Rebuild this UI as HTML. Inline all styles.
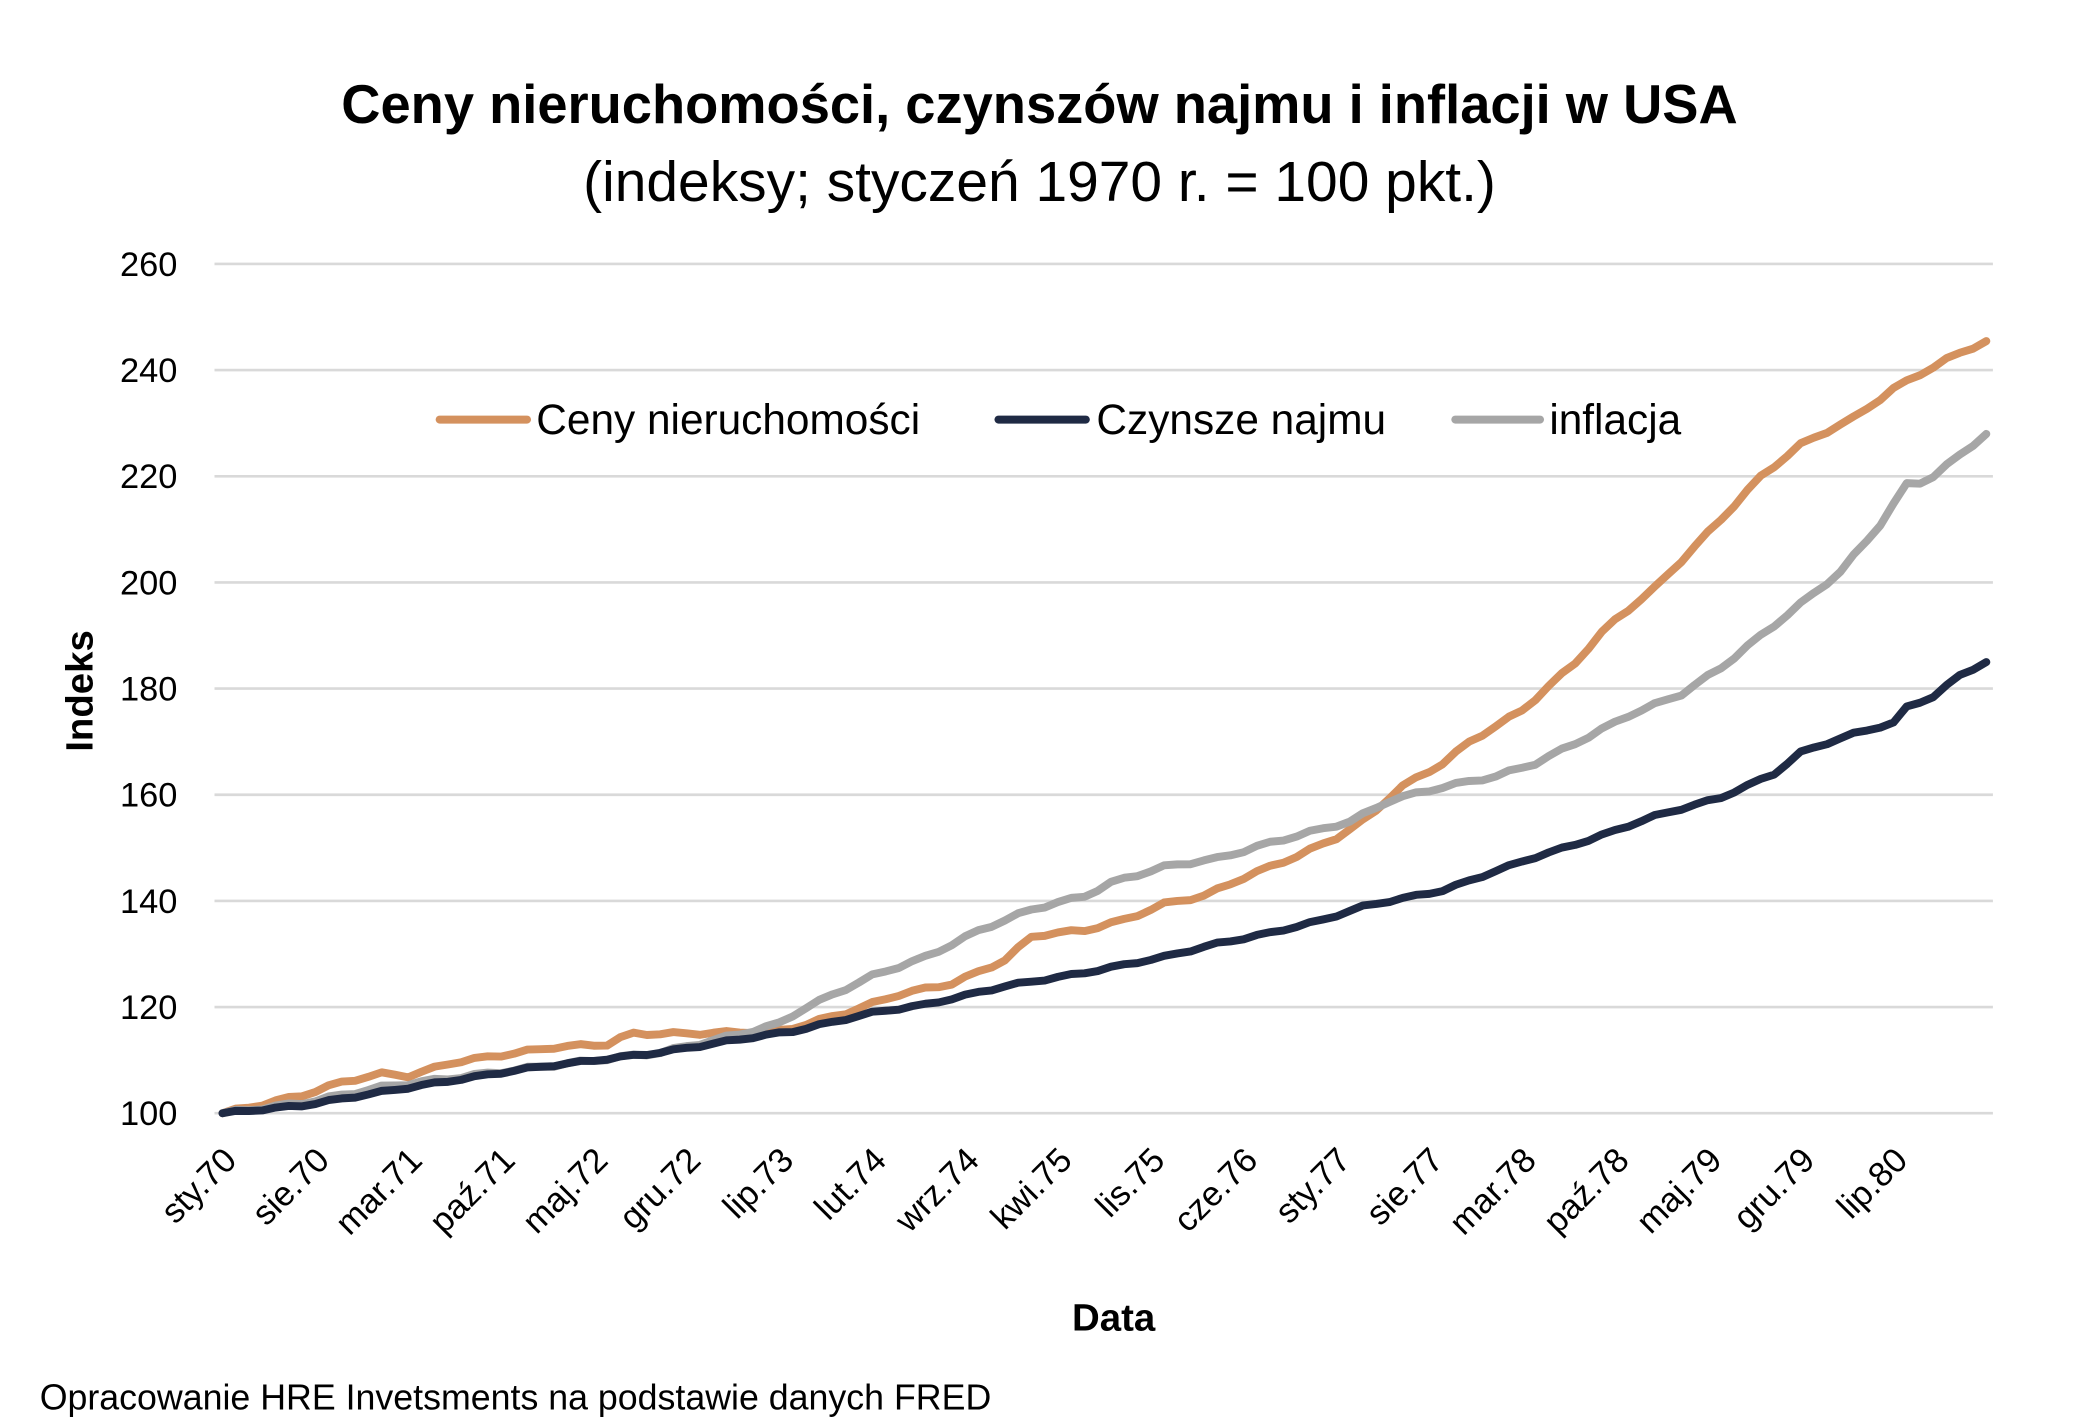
<!DOCTYPE html>
<html><head><meta charset="utf-8"><style>html,body{margin:0;padding:0;background:#fff}svg{display:block}text{font-family:"Liberation Sans",sans-serif}</style></head>
<body>
<svg id="s" width="2079" height="1419" viewBox="0 0 1570 1072" preserveAspectRatio="none" xmlns="http://www.w3.org/2000/svg">
<rect width="1570" height="1072" fill="#fff"/>
<text x="785" y="93" text-anchor="middle" font-size="41" font-weight="bold" fill="#000">Ceny nieruchomości, czynszów najmu i inflacji w USA</text>
<text x="785" y="152" text-anchor="middle" font-size="43" fill="#000">(indeksy; styczeń 1970 r. = 100 pkt.)</text>
<g id="grid" stroke="#d9d9d9" stroke-width="2"></g>
<g id="ylab" font-size="26" fill="#000" text-anchor="end"></g>
<g id="xlab" font-size="26" fill="#000" text-anchor="end"></g>
<text transform="translate(70,522) rotate(-90)" text-anchor="middle" font-size="29" font-weight="bold">Indeks</text>
<text x="841" y="1005" text-anchor="middle" font-size="29" font-weight="bold">Data</text>
<text x="30" y="1065" font-size="27" fill="#000">Opracowanie HRE Invetsments na podstawie danych FRED</text>
<g id="lines" fill="none" stroke-width="6" stroke-linejoin="round" stroke-linecap="round"></g>
<g font-size="32" fill="#000">
<line x1="332" y1="317" x2="398" y2="317" stroke="#D4915E" stroke-width="6" stroke-linecap="round"/>
<text x="405" y="328">Ceny nieruchomości</text>
<line x1="754" y1="317" x2="820" y2="317" stroke="#1F2A44" stroke-width="6" stroke-linecap="round"/>
<text x="828" y="328">Czynsze najmu</text>
<line x1="1099" y1="317" x2="1163" y2="317" stroke="#A6A6A6" stroke-width="6" stroke-linecap="round"/>
<text x="1170" y="328">inflacja</text>
</g>
</svg>
<script>
var NS="http://www.w3.org/2000/svg";
function el(p,t,a,txt){var e=document.createElementNS(NS,t);for(var k in a)e.setAttribute(k,a[k]);if(txt)e.textContent=txt;document.getElementById(p).appendChild(e);return e;}
function Y(v){return 841-(v-100)*4.01;}
for(var v=100;v<=260;v+=20){el("grid","line",{x1:162,x2:1505,y1:Y(v),y2:Y(v)});el("ylab","text",{x:134,y:Y(v)+9},String(v));}
var labs=["sty.70","sie.70","mar.71","paź.71","maj.72","gru.72","lip.73","lut.74","wrz.74","kwi.75","lis.75","cze.76","sty.77","sie.77","mar.78","paź.78","maj.79","gru.79","lip.80"];
var x0=168,dx=(1500-168)/133;
labs.forEach(function(l,i){var x=x0+i*7*dx+12;el("xlab","text",{transform:"translate("+x+",878) rotate(-45)"},l);});
function series(pts,col,wig){var d="";for(var m=0;m<=133;m++){var x=x0+m*dx;var v;for(var j=0;j<pts.length-1;j++){if(x>=pts[j][0]&&x<=pts[j+1][0]){v=pts[j][1]+(pts[j+1][1]-pts[j][1])*(x-pts[j][0])/(pts[j+1][0]-pts[j][0]);break;}}
if(v===undefined)v=pts[pts.length-1][1];v+=wig*Math.sin(m*1.7)*0.3;d+=(m?"L":"M")+x.toFixed(1)+","+Y(v).toFixed(1);}
el("lines","path",{d:d,stroke:col});}
series([[168,100],[230,103.5],[260,106],[290,107.5],[310,107],[340,109.5],[380,111],[420,112.5],[460,113],[475,115],[520,115],[590,115.5],[640,119],[680,122.5],[720,124.5],[760,129],[780,133.5],[820,134.5],[850,136.5],[880,139.5],[910,141],[940,144.5],[980,148.5],[1010,152],[1035,156],[1055,161],[1090,166],[1110,170],[1150,176],[1190,185],[1215,192],[1250,199],[1300,212],[1330,220],[1360,226],[1400,231],[1430,236.5],[1470,242],[1500,245.5]],"#D4915E",1);
series([[168,100],[230,102],[290,105],[400,108.5],[500,111.5],[560,115],[590,117],[605,119.5],[660,126],[700,129.5],[740,134.5],[780,138.5],[820,141],[840,143.5],[880,146.5],[920,148],[960,151],[990,153],[1020,155],[1050,159],[1090,161.5],[1130,163.5],[1160,166],[1200,171],[1230,175],[1270,179],[1300,184],[1330,190],[1360,196],[1390,202],[1420,211],[1440,218.5],[1455,219],[1500,228]],"#A6A6A6",1);
series([[168,100],[230,101.5],[300,104.5],[400,108.5],[500,111.5],[560,114],[600,115.5],[660,119],[700,120.5],[760,124],[820,126.5],[880,129.5],[920,132],[960,134],[1000,136.5],[1030,139],[1090,142],[1150,147.5],[1200,151.5],[1250,156],[1300,159.5],[1340,164],[1360,168],[1400,171.5],[1430,173.5],[1440,176.5],[1460,178.5],[1480,182.5],[1500,185]],"#1F2A44",0.7);
</script>
</body></html>
